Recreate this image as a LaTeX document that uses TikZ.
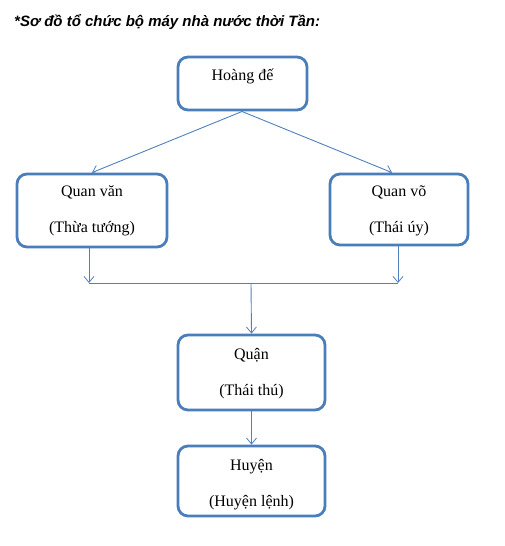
\documentclass[tikz,border=0pt]{standalone}
\usepackage{fontspec}
\setmainfont{Liberation Serif}
\setsansfont{Liberation Sans}
\usetikzlibrary{arrows.meta}
\definecolor{boxblue}{RGB}{74,126,187}
\definecolor{lineblue}{RGB}{79,129,189}
\tikzset{
  orgbox/.style={draw=boxblue, line width=2.8pt, rounded corners=10pt, minimum width=#1, inner sep=0pt},
  orgtext/.style={font=\fontsize{16}{18}\selectfont, inner sep=0pt},
  conn/.style={draw=lineblue, line width=0.9pt},
  arr/.style={conn, -{Straight Barb[length=6pt,width=10pt,line width=0.8pt]}},
}
\begin{document}
\begin{tikzpicture}[x=1pt,y=-1pt]
\useasboundingbox (0,0) rectangle (504,546);
\node[font=\sffamily\bfseries\itshape\fontsize{15}{17}\selectfont, anchor=west, inner sep=0pt] (title) at (14,22) {*Sơ đồ tổ chức bộ máy nhà nước thời Tần:};

\node[orgbox=129pt, minimum height=53pt] (hd) at (242.5,83.5) {};
\node[orgtext] (hdt) at (242.5,76) {Hoàng đế};

\node[orgbox=150pt, minimum height=73pt] (qvan) at (92,210.5) {};
\node[orgtext] (qvant1) at (92,192) {Quan văn};
\node[orgtext] (qvant2) at (92,229) {(Thừa tướng)};

\node[orgbox=138pt, minimum height=71pt] (qvo) at (399,209.5) {};
\node[orgtext] (qvot1) at (399,192) {Quan võ};
\node[orgtext] (qvot2) at (399,229) {(Thái úy)};

\node[orgbox=147pt, minimum height=75pt] (quan) at (251.5,372.5) {};
\node[orgtext] (quant1) at (251.5,355) {Quận};
\node[orgtext] (quant2) at (251.5,392) {(Thái thú)};

\node[orgbox=147pt, minimum height=70pt] (huyen) at (251.5,481) {};
\node[orgtext] (huyent1) at (251.5,467) {Huyện};
\node[orgtext] (huyent2) at (251.5,503) {(Huyện lệnh)};

\coordinate (hdb) at (242,111.5);
\coordinate (lj) at (89,283);
\coordinate (rj) at (398,283);
\coordinate (mj) at (251,283);

\draw[arr] (hdb) -- (qvan.north);
\draw[arr] (hdb) -- (qvo.north -| 392,0);
\draw[arr] (qvan.south -| lj) -- (lj);
\draw[arr] (qvo.south -| rj) -- (rj);
\draw[conn] (lj) -- (rj);
\draw[arr] (mj) -- (quan.north);
\draw[arr] (quan.south) -- (huyen.north);
\end{tikzpicture}
\end{document}
